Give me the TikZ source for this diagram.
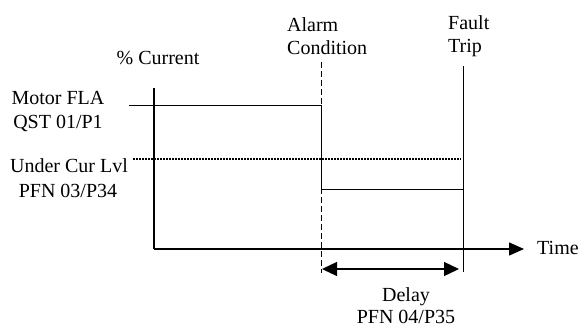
\documentclass[tikz,border=0pt]{standalone}
\usepackage{fontspec}
\setmainfont{Liberation Serif}
\usetikzlibrary{arrows.meta}
\begin{document}
\begin{tikzpicture}[x=1pt,y=-1pt,
  lbl/.style={font=\fontsize{20}{23}\selectfont,inner sep=0pt,anchor=base},
  lblw/.style={lbl,anchor=base west},
  ln/.style={line width=1pt,black},
  axis/.style={line width=1.3pt,black},
  tip/.style={-{Triangle[length=15pt,width=13pt]}}]
\useasboundingbox (0,0) rectangle (579,327);
% coordinates
\coordinate (ytop) at (154,88);
\coordinate (origin) at (154,249);
\coordinate (xend) at (524,249);
\coordinate (fla0) at (129,105);
\coordinate (fla1) at (321,105);
\coordinate (al0) at (321,62);
\coordinate (al1) at (321,273);
\coordinate (low0) at (321,189);
\coordinate (low1) at (463,189);
\coordinate (ft0) at (463,66);
\coordinate (ft1) at (463,272);
\coordinate (uc0) at (133,159);
\coordinate (uc1) at (461,159);
\coordinate (d0) at (322,269);
\coordinate (d1) at (459,269);
% labels
\node[lbl] (cur) at (158,64) {\% Current};
\node[lbl] (fla) at (58,104) {Motor FLA};
\node[lbl] (qst) at (58,128) {QST 01/P1};
\node[lbl] (ucl) at (69,172) {Under Cur Lvl};
\node[lbl] (pfn3) at (68,197) {PFN 03/P34};
\node[lblw] (alarm) at (287,31) {Alarm};
\node[lblw] (cond) at (287,54) {Condition};
\node[lblw] (fault) at (448,29) {Fault};
\node[lblw] (trip) at (448,52) {Trip};
\node[lblw] (time) at (537,254) {Time};
\node[lbl] (delay) at (406,301) {Delay};
\node[lbl] (pfn4) at (406,323) {PFN 04/P35};
% axes
\draw[axis] (ytop) -- (origin);
\draw[axis,tip] (origin) -- (xend);
% current trace
\draw[ln] (fla0) -- (fla1) -- (low0) -- (low1);
\draw[ln,dash pattern=on 6pt off 3pt] (al0) -- (al1);
\draw[ln] (ft0) -- (ft1);
% under current level
\draw[line width=2.5pt,dash pattern=on 2pt off 1pt] (uc0) -- (uc1);
% delay
\draw[line width=1.3pt,{Triangle[length=15pt,width=14pt]}-{Triangle[length=15pt,width=14pt]}] (d0) -- (d1);
\end{tikzpicture}
\end{document}
